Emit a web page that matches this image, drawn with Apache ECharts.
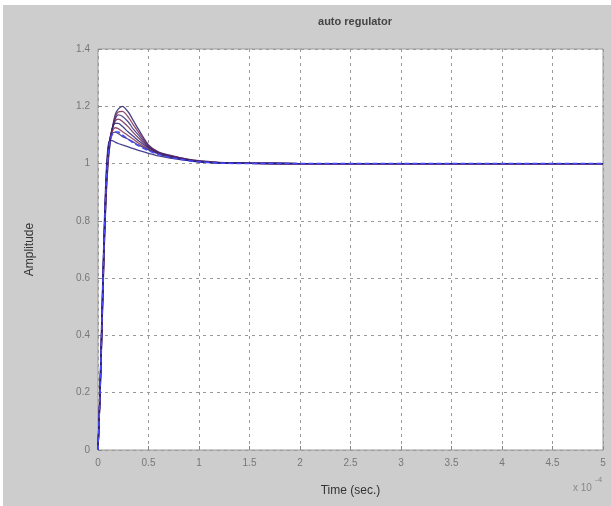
<!DOCTYPE html>
<html>
<head>
<meta charset="utf-8">
<script src="https://cdn.jsdelivr.net/npm/echarts@6/dist/echarts.min.js"></script>
<style>
  html, body { margin: 0; padding: 0; background: #ffffff; }
  #main { position: absolute; left: 3px; top: 5px; width: 608px; height: 501px; }
</style>
</head>
<body>
<div id="main"></div>
<script>
// time axis (x 10^-4 sec)
var times = [0, 0.02, 0.04, 0.06, 0.08, 0.1, 0.12, 0.14, 0.17, 0.2, 0.24, 0.3, 0.35, 0.4, 0.5, 0.6, 0.7, 0.8, 0.9, 1.0, 1.2, 1.5, 2, 3, 4, 5];
// step responses
var resp1 = [0, 0.18, 0.42, 0.68, 0.88, 1.0, 1.07, 1.12, 1.17, 1.19, 1.2, 1.18, 1.15, 1.12, 1.065, 1.04, 1.03, 1.022, 1.015, 1.01, 1.004, 1.001, 1, 1, 1, 1];
var resp2 = [0, 0.185, 0.43, 0.69, 0.89, 1.01, 1.075, 1.12, 1.162, 1.18, 1.182, 1.162, 1.135, 1.11, 1.062, 1.039, 1.028, 1.021, 1.014, 1.009, 1.003, 1.001, 1, 1, 1, 1];
var resp3 = [0, 0.19, 0.44, 0.7, 0.9, 1.02, 1.08, 1.12, 1.155, 1.17, 1.165, 1.145, 1.12, 1.1, 1.06, 1.038, 1.027, 1.02, 1.013, 1.008, 1.003, 1.001, 1, 1, 1, 1];
var resp4 = [0, 0.195, 0.45, 0.71, 0.91, 1.03, 1.085, 1.12, 1.148, 1.155, 1.148, 1.128, 1.108, 1.09, 1.057, 1.037, 1.026, 1.019, 1.012, 1.007, 1.003, 1.001, 1, 1, 1, 1];
var resp5 = [0, 0.2, 0.46, 0.72, 0.92, 1.04, 1.09, 1.12, 1.14, 1.14, 1.13, 1.11, 1.095, 1.08, 1.055, 1.036, 1.025, 1.018, 1.012, 1.007, 1.003, 1.001, 1, 1, 1, 1];
var resp6 = [0, 0.205, 0.47, 0.73, 0.93, 1.045, 1.09, 1.112, 1.125, 1.122, 1.112, 1.097, 1.085, 1.072, 1.051, 1.035, 1.024, 1.017, 1.011, 1.007, 1.003, 1.001, 1, 1, 1, 1];
var resp7 = [0, 0.21, 0.48, 0.74, 0.94, 1.05, 1.09, 1.105, 1.11, 1.105, 1.095, 1.085, 1.075, 1.065, 1.048, 1.034, 1.024, 1.017, 1.011, 1.007, 1.003, 1.001, 1, 1, 1, 1];
var resp8 = [0, 0.22, 0.5, 0.76, 0.96, 1.06, 1.08, 1.08, 1.075, 1.07, 1.065, 1.058, 1.052, 1.046, 1.036, 1.027, 1.02, 1.015, 1.01, 1.006, 1.002, 1.001, 1, 1, 1, 1];
var nominal = [0, 0.2, 0.46, 0.72, 0.92, 1.03, 1.08, 1.1, 1.11, 1.11, 1.1, 1.085, 1.072, 1.062, 1.045, 1.032, 1.022, 1.016, 1.01, 1.006, 1.002, 1.0, 1, 1, 1, 1];

var curves = [resp1, resp2, resp3, resp4, resp5, resp6, resp7, resp8];
var colors = ["#2b1f6e", "#7a2848", "#3a2a80", "#6e2650", "#24207a", "#803050", "#30247a", "#24207a"];

function pairs(vals) {
  return times.map(function (t, i) { return [t, vals[i]]; });
}

var series = curves.map(function (c, i) {
  return {
    type: "line",
    data: pairs(c),
    showSymbol: false,
    smooth: 0.3,
    lineStyle: { color: colors[i], width: 1.3, opacity: 0.85 },
    z: 3
  };
});
series.push({
  type: "line",
  data: pairs(nominal),
  showSymbol: false,
  smooth: 0.3,
  lineStyle: { color: "#4a4aff", width: 1.5, type: [5, 3] },
  z: 4
});

var chart = echarts.init(document.getElementById("main"));
chart.setOption({
  backgroundColor: "#cdcdcd",
  animation: false,
  title: {
    text: "auto regulator",
    left: 347,
    top: 6,
    textAlign: "center",
    textStyle: { fontFamily: "Liberation Sans", fontSize: 11, fontWeight: "bold", color: "#444" }
  },
  grid: { left: 95, top: 44, right: 8, bottom: 56, show: true, backgroundColor: "#ffffff", borderColor: "#9a9a9a", borderWidth: 1 },
  xAxis: {
    type: "value",
    min: 0, max: 5, interval: 0.5,
    name: "Time (sec.)",
    nameLocation: "middle",
    nameGap: 35,
    nameTextStyle: { fontFamily: "Liberation Sans", fontSize: 12, color: "#333" },
    axisLine: { show: false },
    axisTick: { show: true, inside: true, length: 4, lineStyle: { color: "#888" } },
    axisLabel: { fontFamily: "Liberation Sans", fontSize: 10, color: "#777", margin: 8 },
    splitLine: { show: true, lineStyle: { color: "#999", type: [3, 4], width: 1 } }
  },
  yAxis: {
    type: "value",
    min: 0, max: 1.4, interval: 0.2,
    name: "Amplitude",
    nameLocation: "middle",
    nameGap: 62,
    nameTextStyle: { fontFamily: "Liberation Sans", fontSize: 12, color: "#333" },
    axisLine: { show: false },
    axisTick: { show: true, inside: true, length: 4, lineStyle: { color: "#888" } },
    axisLabel: { fontFamily: "Liberation Sans", fontSize: 10, color: "#777", margin: 8 },
    splitLine: { show: true, lineStyle: { color: "#999", type: [3, 4], width: 1 } }
  },
  graphic: [
    {
      type: "text",
      left: 570,
      top: 478,
      style: { text: "x 10", fontFamily: "Liberation Sans", fontSize: 10, fill: "#888" }
    },
    {
      type: "text",
      left: 592,
      top: 471,
      style: { text: "-4", fontFamily: "Liberation Sans", fontSize: 8, fill: "#888" }
    }
  ],
  series: series
});
</script>
</body>
</html>
